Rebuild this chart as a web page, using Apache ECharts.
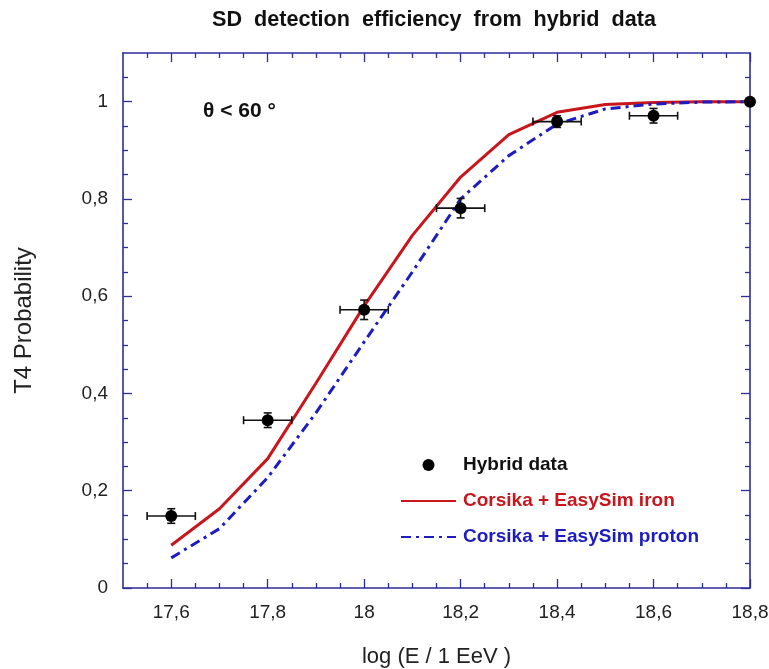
<!DOCTYPE html>
<html>
<head>
<meta charset="utf-8">
<script src="https://cdn.jsdelivr.net/npm/echarts@6/dist/echarts.min.js"></script>
<style>html,body{margin:0;padding:0;background:#fff;}#c{width:769px;height:669px;}</style>
</head>
<body>
<div id="c"></div>
<script>
// ---- data ----
const dataX = [17.6, 17.8, 18.0, 18.2, 18.4, 18.6, 18.8];
const dataY = [0.148, 0.345, 0.572, 0.781, 0.959, 0.971, 1.0];
const dataXErr = [0.05, 0.05, 0.05, 0.05, 0.05, 0.05, 0];
const dataYErr = [0.015, 0.015, 0.02, 0.02, 0.012, 0.015, 0];

const curveX = [17.6, 17.7, 17.8, 17.9, 18.0, 18.1, 18.2, 18.3, 18.4, 18.5, 18.6, 18.7, 18.8];
const ironY = [0.088, 0.163, 0.266, 0.421, 0.58, 0.725, 0.845, 0.932, 0.978, 0.994, 0.998, 1.0, 1.0];
const protonY = [0.062, 0.122, 0.227, 0.36, 0.506, 0.65, 0.80, 0.889, 0.954, 0.985, 0.995, 0.999, 1.0];

const xMajor = [17.6, 17.8, 18.0, 18.2, 18.4, 18.6, 18.8];
const xMinor = [17.55, 17.65, 17.7, 17.75, 17.85, 17.9, 17.95, 18.05, 18.1, 18.15, 18.25, 18.3, 18.35, 18.45, 18.5, 18.55, 18.65, 18.7, 18.75];
const yMajor = [0, 0.2, 0.4, 0.6, 0.8, 1.0];
const yMinor = [0.05, 0.1, 0.15, 0.25, 0.3, 0.35, 0.45, 0.5, 0.55, 0.65, 0.7, 0.75, 0.85, 0.9, 0.95, 1.05];

const seriesNames = ['Hybrid data', 'Corsika + EasySim iron', 'Corsika + EasySim proton'];

// ---- styling ----
const FONT = "'Liberation Sans', Arial, Helvetica, sans-serif";
const NAVY = '#2d2d9c';
const RED = '#c8161c';
const BLUE = '#1c1cc0';
const fmt = v => String(Math.round(v * 100) / 100).replace('.', ',');

function xAxisDef(pos, ticks, len, labels, line) {
  return {
    type: 'value', position: pos, min: 17.5, max: 18.8,
    axisLine: { show: line, onZero: false, lineStyle: { color: NAVY, width: 1.6 } },
    axisTick: { show: true, inside: true, length: len, customValues: ticks, lineStyle: { color: NAVY, width: 1.3 } },
    axisLabel: labels ? { show: true, customValues: ticks, formatter: fmt, margin: 15, fontSize: 19, color: '#222', fontFamily: FONT } : { show: false },
    splitLine: { show: false }
  };
}
function yAxisDef(pos, ticks, len, labels, line) {
  return {
    type: 'value', position: pos, min: 0, max: 1.1,
    axisLine: { show: line, onZero: false, lineStyle: { color: NAVY, width: 1.6 } },
    axisTick: { show: true, inside: true, length: len, customValues: ticks, lineStyle: { color: NAVY, width: 1.3 } },
    axisLabel: labels ? { show: true, customValues: ticks, formatter: fmt, margin: 15, fontSize: 19, color: '#222', fontFamily: FONT } : { show: false },
    splitLine: { show: false }
  };
}

const xAxes = [
  Object.assign(xAxisDef('bottom', xMajor, 9, true, true), {
    name: 'log (E / 1 EeV )', nameLocation: 'middle', nameGap: 58,
    nameTextStyle: { fontSize: 22, color: '#222', fontFamily: FONT }
  }),
  xAxisDef('bottom', xMinor, 5, false, false),
  xAxisDef('top', xMajor, 9, false, true),
  xAxisDef('top', xMinor, 5, false, false)
];
const yAxes = [
  Object.assign(yAxisDef('left', yMajor, 9, true, true), {
    name: 'T4 Probability', nameLocation: 'middle', nameGap: 87, nameRotate: 90,
    nameTextStyle: { fontSize: 24, color: '#222', fontFamily: FONT }
  }),
  yAxisDef('left', yMinor, 5, false, false),
  yAxisDef('right', yMajor, 9, false, true),
  yAxisDef('right', yMinor, 5, false, false)
];

const errData = dataX.map((x, i) => [x, dataY[i], dataXErr[i], dataYErr[i]]);
const hiddenSymbol = { color: 'rgba(0,0,0,0)', borderWidth: 0, opacity: 0 };

const chart = echarts.init(document.getElementById('c'), null, { renderer: 'canvas' });
chart.setOption({
  backgroundColor: '#fff',
  animation: false,
  title: {
    text: 'SD  detection  efficiency  from  hybrid  data',
    left: 207, top: 4,
    textStyle: { fontSize: 21.6, fontWeight: 'bold', color: '#111', fontFamily: FONT }
  },
  grid: { left: 123, right: 19, top: 53, bottom: 81, containLabel: false, outerBoundsMode: 'none' },
  xAxis: xAxes,
  yAxis: yAxes,
  legend: {
    orient: 'vertical', left: 400, top: 455, padding: 0, itemWidth: 55, itemHeight: 12, itemGap: 16,
    selectedMode: false,
    textStyle: { fontSize: 19, fontWeight: 'bold', fontFamily: FONT, lineHeight: 20, padding: [0, 0, 0, 2] },
    data: [
      { name: seriesNames[0], icon: 'circle', itemStyle: { color: '#000', opacity: 1 }, textStyle: { color: '#111' } },
      { name: seriesNames[1], itemStyle: hiddenSymbol, textStyle: { color: RED } },
      { name: seriesNames[2], itemStyle: hiddenSymbol, textStyle: { color: BLUE } }
    ]
  },
  graphic: [{
    type: 'text', left: 203, top: 101,
    style: { text: 'θ < 60 °', font: 'bold 21px ' + FONT, fill: '#111' }
  }],
  series: [
    {
      name: seriesNames[1], type: 'line', xAxisIndex: 0, yAxisIndex: 0,
      data: curveX.map((x, i) => [x, ironY[i]]),
      symbol: 'none', smooth: false, z: 3,
      lineStyle: { color: RED, width: 3 }, itemStyle: { color: RED }
    },
    {
      name: seriesNames[2], type: 'line', xAxisIndex: 0, yAxisIndex: 0,
      data: curveX.map((x, i) => [x, protonY[i]]),
      symbol: 'none', smooth: false, z: 3,
      lineStyle: { color: BLUE, width: 3, type: [10, 5, 3, 5] }, itemStyle: { color: BLUE }
    },
    {
      name: 'errors', type: 'custom', xAxisIndex: 0, yAxisIndex: 0, z: 4,
      data: errData,
      renderItem: function (params, api) {
        const x = api.value(0), y = api.value(1), ex = api.value(2), ey = api.value(3);
        const children = [];
        const st = { stroke: '#111', lineWidth: 1.6 };
        if (ex > 0) {
          const l = api.coord([x - ex, y]), r = api.coord([x + ex, y]);
          children.push({ type: 'line', shape: { x1: l[0], y1: l[1], x2: r[0], y2: r[1] }, style: st });
          children.push({ type: 'line', shape: { x1: l[0], y1: l[1] - 4, x2: l[0], y2: l[1] + 4 }, style: st });
          children.push({ type: 'line', shape: { x1: r[0], y1: r[1] - 4, x2: r[0], y2: r[1] + 4 }, style: st });
        }
        if (ey > 0) {
          const t = api.coord([x, y + ey]), b = api.coord([x, y - ey]);
          children.push({ type: 'line', shape: { x1: t[0], y1: t[1], x2: b[0], y2: b[1] }, style: st });
          children.push({ type: 'line', shape: { x1: t[0] - 4, y1: t[1], x2: t[0] + 4, y2: t[1] }, style: st });
          children.push({ type: 'line', shape: { x1: b[0] - 4, y1: b[1], x2: b[0] + 4, y2: b[1] }, style: st });
        }
        return { type: 'group', children: children };
      }
    },
    {
      name: seriesNames[0], type: 'scatter', xAxisIndex: 0, yAxisIndex: 0, z: 5,
      data: dataX.map((x, i) => [x, dataY[i]]),
      symbol: 'circle', symbolSize: 12,
      itemStyle: { color: '#000', opacity: 1 }
    }
  ]
});
</script>
</body>
</html>
